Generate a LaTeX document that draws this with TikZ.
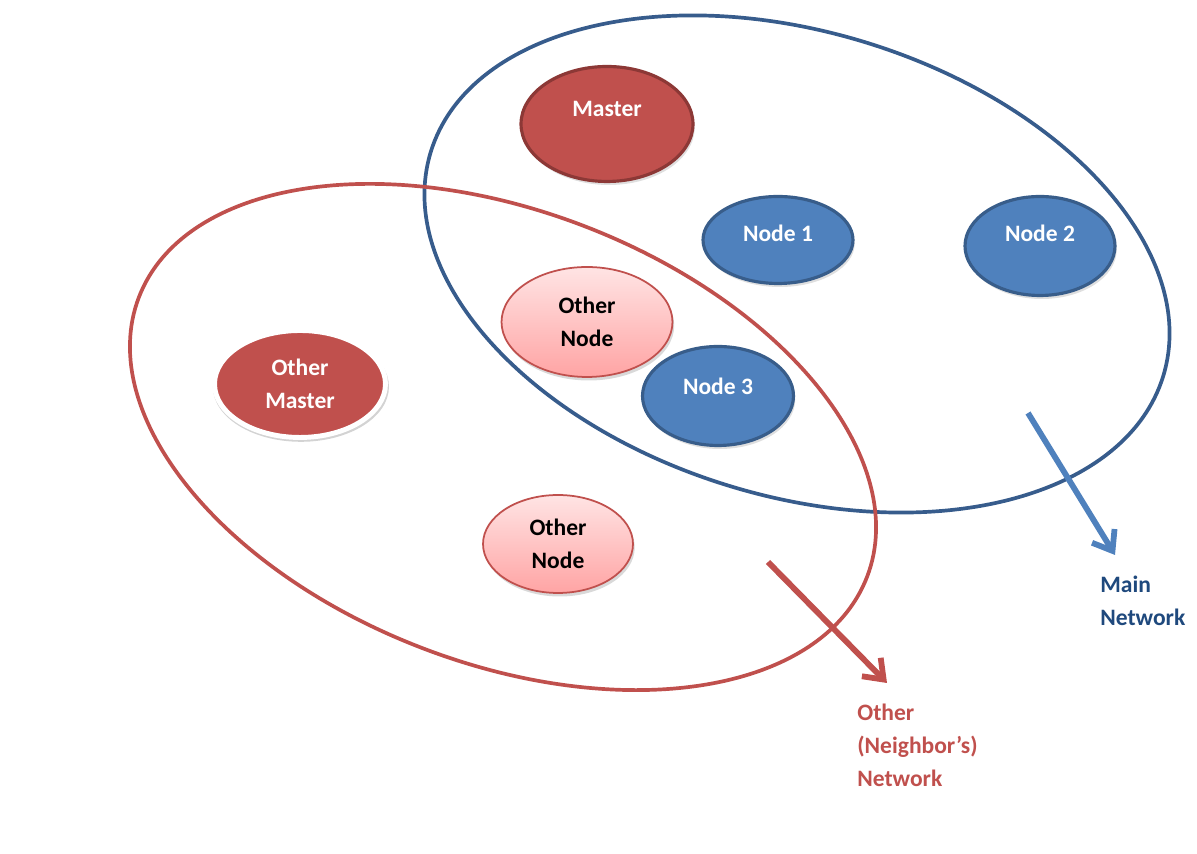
\documentclass[tikz,border=0pt]{standalone}
\usepackage{fontspec}
\setmainfont{Carlito}
\usepackage{tikz}
\usetikzlibrary{arrows.meta, positioning, shapes.geometric, shadows}
\definecolor{masterred}{HTML}{C0504D}
\definecolor{masteredge}{HTML}{8C3836}
\definecolor{nodeblue}{HTML}{4F81BD}
\definecolor{nodeedge}{HTML}{385D8A}
\definecolor{netblue}{HTML}{375C8C}
\definecolor{labelblue}{HTML}{1F497D}
\definecolor{pinktop}{HTML}{FFE4E4}
\definecolor{pinkbottom}{HTML}{FFA4A4}

\begin{document}
\begin{tikzpicture}[
    x=0.02cm, y=0.02cm,
    txt/.style={font=\fontsize{13.4}{18.7}\selectfont\bfseries, align=center},
    master/.style={ellipse, txt, fill=masterred, text=white},
    mainnode/.style={ellipse, txt, fill=nodeblue, draw=nodeedge, line width=1.8pt, text=white,
        drop shadow={opacity=0.25, shadow xshift=1pt, shadow yshift=-2pt}},
    othernode/.style={ellipse, txt, top color=pinktop, bottom color=pinkbottom, draw=masterred, line width=1pt, text=black,
        drop shadow={opacity=0.3, shadow xshift=1pt, shadow yshift=-2pt}},
    net/.style={line width=2.1pt},
    arr/.style={-{Straight Barb[length=10pt, width=15pt]}, line width=3.3pt},
    netlabel/.style={txt, align=left, anchor=north west, inner sep=0pt}
]
    \useasboundingbox (0,0) rectangle (1197,854);
    \draw[net, netblue, rotate around={-17:(797,590)}] (797,590) ellipse [x radius=383, y radius=232];
    \draw[net, masterred, rotate around={-21:(503,417)}] (503,417) ellipse [x radius=390, y radius=226];

    \node[master, draw=masteredge, line width=1.8pt, minimum width=3.44cm, minimum height=2.3cm, text depth=0.59cm,
        drop shadow={opacity=0.25, shadow xshift=1pt, shadow yshift=-2pt}] (master) at (607,730) {Master};
    \node[mainnode, minimum width=3.0cm, minimum height=1.74cm, text depth=0.25cm] (node1) at (778,614) {Node 1};
    \node[mainnode, minimum width=3.0cm, minimum height=1.98cm, text depth=0.5cm] (node2) at (1040,608) {Node 2};
    \node[mainnode, minimum width=3.02cm, minimum height=1.98cm, text depth=0.38cm] (node3) at (718,458) {Node 3};
    \node[master, draw=white, line width=2.8pt, minimum width=3.42cm, minimum height=2.14cm,
        drop shadow={opacity=0.35, shadow xshift=0.5pt, shadow yshift=-1.5pt, shadow scale=1.03}] (othermaster) at (300,470) {Other\\Master};
    \node[othernode, minimum width=3.42cm, minimum height=2.2cm] (othernodea) at (587,532) {Other\\Node};
    \node[othernode, minimum width=3.0cm, minimum height=1.96cm] (othernodeb) at (558,310) {Other\\Node};

    \node[netlabel, text=labelblue] (mainlabel) at (1100,278) {Main\\Network};
    \node[netlabel, text=masterred] (otherlabel) at (857,150) {Other\\(Neighbor’s)\\Network};

    \coordinate (maintail) at (1028,441);
    \coordinate (maintip) at (1115,299);
    \coordinate (othertail) at (768,292);
    \coordinate (othertip) at (887,171);
    \draw[arr, nodeblue] (maintail) -- (maintip);
    \draw[arr, masterred] (othertail) -- (othertip);
\end{tikzpicture}
\end{document}
